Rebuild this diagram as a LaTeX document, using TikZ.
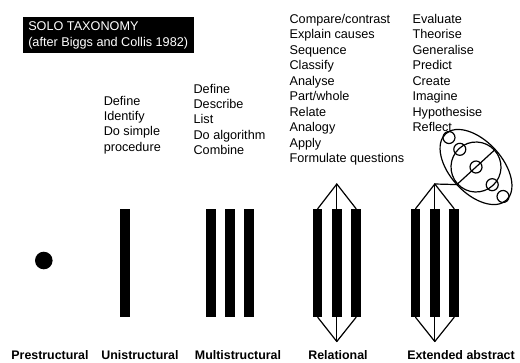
\documentclass[tikz,border=0pt]{standalone}
\usepackage{fontspec}
\setmainfont{Liberation Sans}
\usepackage{tikz}

\begin{document}
\begin{tikzpicture}[x=0.75pt, y=-0.75pt, line join=round, line cap=round,
        every node/.style={font=\fontsize{9.5}{11.6}\selectfont, inner sep=0pt},
        word/.style={anchor=base west},
        level/.style={anchor=base, font=\fontsize{9.3}{11}\selectfont\bfseries},
        bar/.style={fill=black, minimum width=7.1pt, minimum height=81pt},
        link/.style={line width=0.9pt}]
        \useasboundingbox (0,0) rectangle (520,362);

        \fill (23,17) rectangle (194,53);
        \node[word, text=white] (title-1) at (28,30.8) {SOLO TAXONOMY};
        \node[word, text=white] (title-2) at (28,46.8) {(after Biggs and Collis 1982)};

        \foreach \w [count=\i] in {Define, Identify, Do simple, procedure}
            \node[word] (uni-w\i) at (103.5,{105+15.44*(\i-1)}) {\w};
        \foreach \w [count=\i] in {Define, Describe, List, Do algorithm, Combine}
            \node[word] (multi-w\i) at (193.3,{93+15.44*(\i-1)}) {\w};
        \foreach \w [count=\i] in {Compare/contrast, Explain causes, Sequence, Classify, Analyse,
                Part/whole, Relate, Analogy, Apply, Formulate questions}
            \node[word] (rel-w\i) at (289.3,{23.5+15.44*(\i-1)}) {\w};
        \foreach \w [count=\i] in {Evaluate, Theorise, Generalise, Predict, Create,
                Imagine, Hypothesise, Reflect}
            \node[word] (ext-w\i) at (412.3,{23.5+15.44*(\i-1)}) {\w};

        \node[circle, fill=black, minimum size=13.2pt] (pre) at (43.8,260.5) {};
        \node[bar] (uni) at (124.8,263) {};
        \foreach \x [count=\i] in {211,230,248.8}
            \node[bar] (multi-\i) at (\x,263) {};
        \foreach \x [count=\i] in {317.7,336.8,356.1}
            \node[bar] (rel-\i) at (\x,263) {};
        \foreach \x [count=\i] in {415.5,434.8,454.2}
            \node[bar] (ext-\i) at (\x,263) {};

        \coordinate (rel-top) at (336.8,184);
        \coordinate (rel-bot) at (336.8,341.5);
        \coordinate (ext-top) at (434.8,184);
        \coordinate (ext-bot) at (434.8,341.5);
        \foreach \i in {1,2,3} {
            \draw[link] (rel-top) -- (rel-\i.north);
            \draw[link] (rel-bot) -- (rel-\i.south);
            \draw[link] (ext-top) -- (ext-\i.north);
            \draw[link] (ext-bot) -- (ext-\i.south);
        }

        \begin{scope}[shift={(476,167)}, rotate=-47.5, line width=0.9pt]
            \draw (0,0) ellipse (45 and 26);
            \draw (0,0) circle (25);
            \coordinate (minor-a) at (0,-26);
            \coordinate (minor-b) at (0,26);
            \draw (minor-a) -- (minor-b);
            \foreach \p in {-40,-24,0,24,40}
                \draw (\p,0) circle (6);
        \end{scope}
        \draw[link] (ext-top) -- (minor-b);

        \node[level] (pre-lbl) at (50,359) {Prestructural};
        \node[level] (uni-lbl) at (140,359) {Unistructural};
        \node[level] (multi-lbl) at (238,359) {Multistructural};
        \node[level] (rel-lbl) at (338,359) {Relational};
        \node[level] (ext-lbl) at (461,359) {Extended abstract};
    \end{tikzpicture}
\end{document}
